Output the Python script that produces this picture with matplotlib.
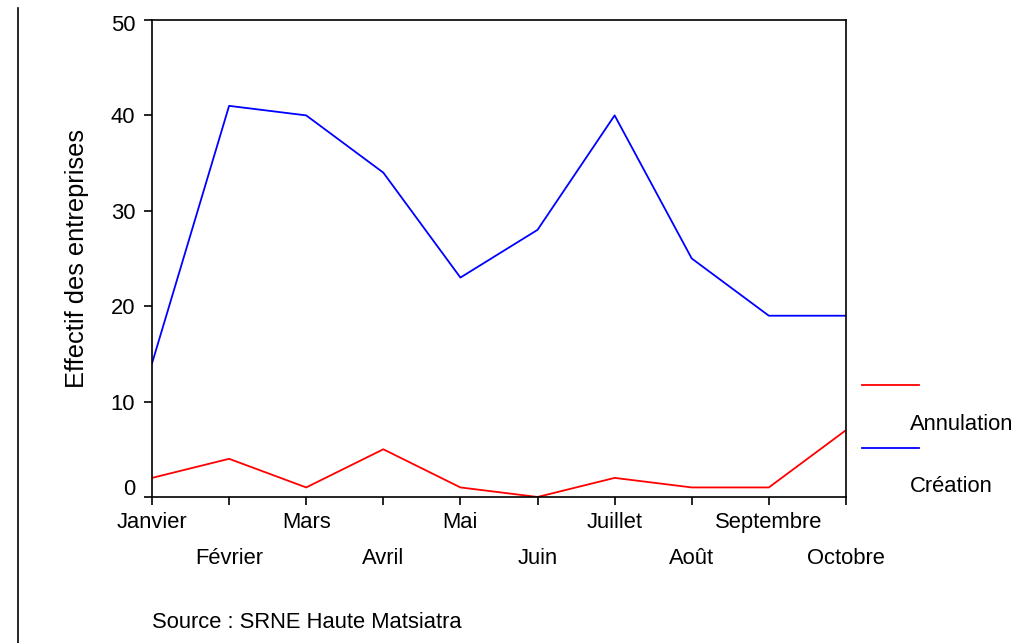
import matplotlib.pyplot as plt
import matplotlib.transforms as mtransforms
from matplotlib.lines import Line2D

plt.rcParams['font.family'] = ['Liberation Sans', 'DejaVu Sans']

# données mensuelles
mois = ['Janvier', 'Février', 'Mars', 'Avril', 'Mai', 'Juin',
        'Juillet', 'Août', 'Septembre', 'Octobre']
creation = [14, 41, 40, 34, 23, 28, 40, 25, 19, 19]
annulation = [2, 4, 1, 5, 1, 0, 2, 1, 1, 7]

fig = plt.figure(figsize=(10.27, 6.43), dpi=100)
ax = fig.add_axes([0.148, 0.2271, 0.6757, 0.7418])

x = list(range(len(mois)))
ax.plot(x, annulation, color='#ff0000', lw=1.3)
ax.plot(x, creation, color='#0000ff', lw=1.3)

ax.set_xlim(0, len(mois) - 1)
ax.set_ylim(0, 50)
ax.set_yticks([0, 10, 20, 30, 40, 50])
ax.set_xticks(x)
ax.set_xticklabels(mois)
ax.tick_params(axis='both', direction='out', length=6, width=1.2, labelsize=15.8, colors='black')
ax.tick_params(axis='x', pad=5)
ax.tick_params(axis='y', pad=6)
# étiquettes paires / impaires sur deux rangs
for i, t in enumerate(ax.xaxis.get_major_ticks()):
    if i % 2 == 1:
        t.set_pad(5 + 26)

# le "0" remonté, le "50" légèrement abaissé comme dans l'original
ylabs = ax.get_yticklabels()
ylabs[0].set_transform(ylabs[0].get_transform() +
                       mtransforms.ScaledTranslation(0, 10 / 100, fig.dpi_scale_trans))
ylabs[-1].set_transform(ylabs[-1].get_transform() +
                        mtransforms.ScaledTranslation(0, -3 / 100, fig.dpi_scale_trans))

for s in ax.spines.values():
    s.set_linewidth(1.2)
ax.set_ylabel('Effectif des entreprises', fontsize=18.3, labelpad=16)

# légende
fig.add_artist(Line2D([862 / 1027, 919 / 1027], [1 - 385 / 643, 1 - 385 / 643],
                      color='#ff0000', lw=1.3))
fig.text(910 / 1027, 1 - 425 / 643, 'Annulation', fontsize=15.8, va='center')
fig.add_artist(Line2D([862 / 1027, 919 / 1027], [1 - 448 / 643, 1 - 448 / 643],
                      color='#0000ff', lw=1.3))
fig.text(910 / 1027, 1 - 487 / 643, 'Création', fontsize=15.8, va='center')

fig.text(152 / 1027, 1 - 623 / 643, 'Source : SRNE Haute Matsiatra', fontsize=15.8, va='center')

# trait vertical à gauche
fig.add_artist(Line2D([18 / 1027, 18 / 1027], [0, 1 - 8 / 643], color='black', lw=1.2))

fig.savefig('out.png', dpi=100)
